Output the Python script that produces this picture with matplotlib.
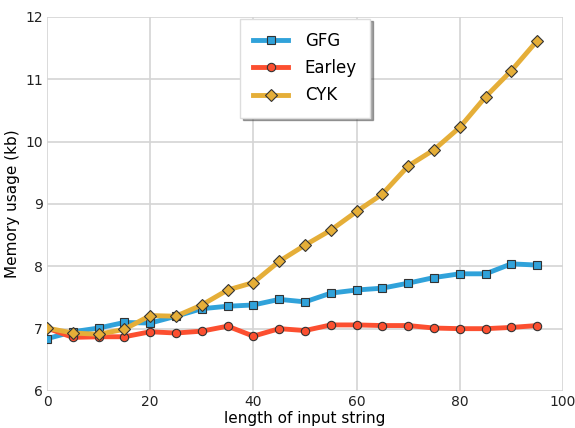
import matplotlib
matplotlib.use("Agg")
import matplotlib.pyplot as plt

x = [0, 5, 10, 15, 20, 25, 30, 35, 40, 45, 50, 55, 60, 65, 70, 75, 80, 85, 90, 95]
gfg = [6.84, 6.95, 7.01, 7.10, 7.09, 7.20, 7.32, 7.36, 7.38, 7.47, 7.43, 7.57, 7.62, 7.65, 7.73, 7.82, 7.88, 7.88, 8.04, 8.02]
earley = [7.01, 6.86, 6.87, 6.87, 6.95, 6.93, 6.96, 7.04, 6.88, 7.00, 6.97, 7.06, 7.06, 7.05, 7.05, 7.01, 7.00, 7.00, 7.02, 7.05]
cyk = [7.01, 6.93, 6.91, 6.99, 7.21, 7.20, 7.38, 7.62, 7.74, 8.08, 8.34, 8.58, 8.88, 9.16, 9.61, 9.87, 10.23, 10.72, 11.14, 11.62]

fig = plt.figure(figsize=(5.75, 4.28), dpi=100)
ax = fig.add_axes([47/575, 1 - 391/428, (563-47)/575, (391-17)/428])

common = dict(lw=3.5, ms=6, mec='#333333', mew=0.8)
ax.plot(x, gfg, marker='s', color='#30a2da', label='GFG', **common)
ax.plot(x, earley, marker='o', color='#fc4f30', label='Earley', **common)
ax.plot(x, cyk, marker='D', color='#e5ae38', label='CYK', **common)

ax.set_xlim(0, 100)
ax.set_ylim(6, 12)
ax.set_xticks([0, 20, 40, 60, 80, 100])
ax.set_yticks([6, 7, 8, 9, 10, 11, 12])
ax.grid(True, color='#d4d4d4', lw=1.2)
ax.set_axisbelow(True)
for s in ax.spines.values():
    s.set_visible(False)
ax.tick_params(length=0, labelsize=10, colors='#222222', pad=3)
ax.set_xlabel('length of input string', fontsize=11, labelpad=1)
ax.set_ylabel('Memory usage (kb)', fontsize=11, labelpad=4)

leg = ax.legend(loc='upper center', fontsize=12, shadow=True, fancybox=False,
                framealpha=1, edgecolor='#dddddd', borderpad=0.8, handlelength=2.1,
                labelspacing=0.55, handletextpad=1.0, borderaxespad=0.1)

fig.savefig('out.png', dpi=100)
